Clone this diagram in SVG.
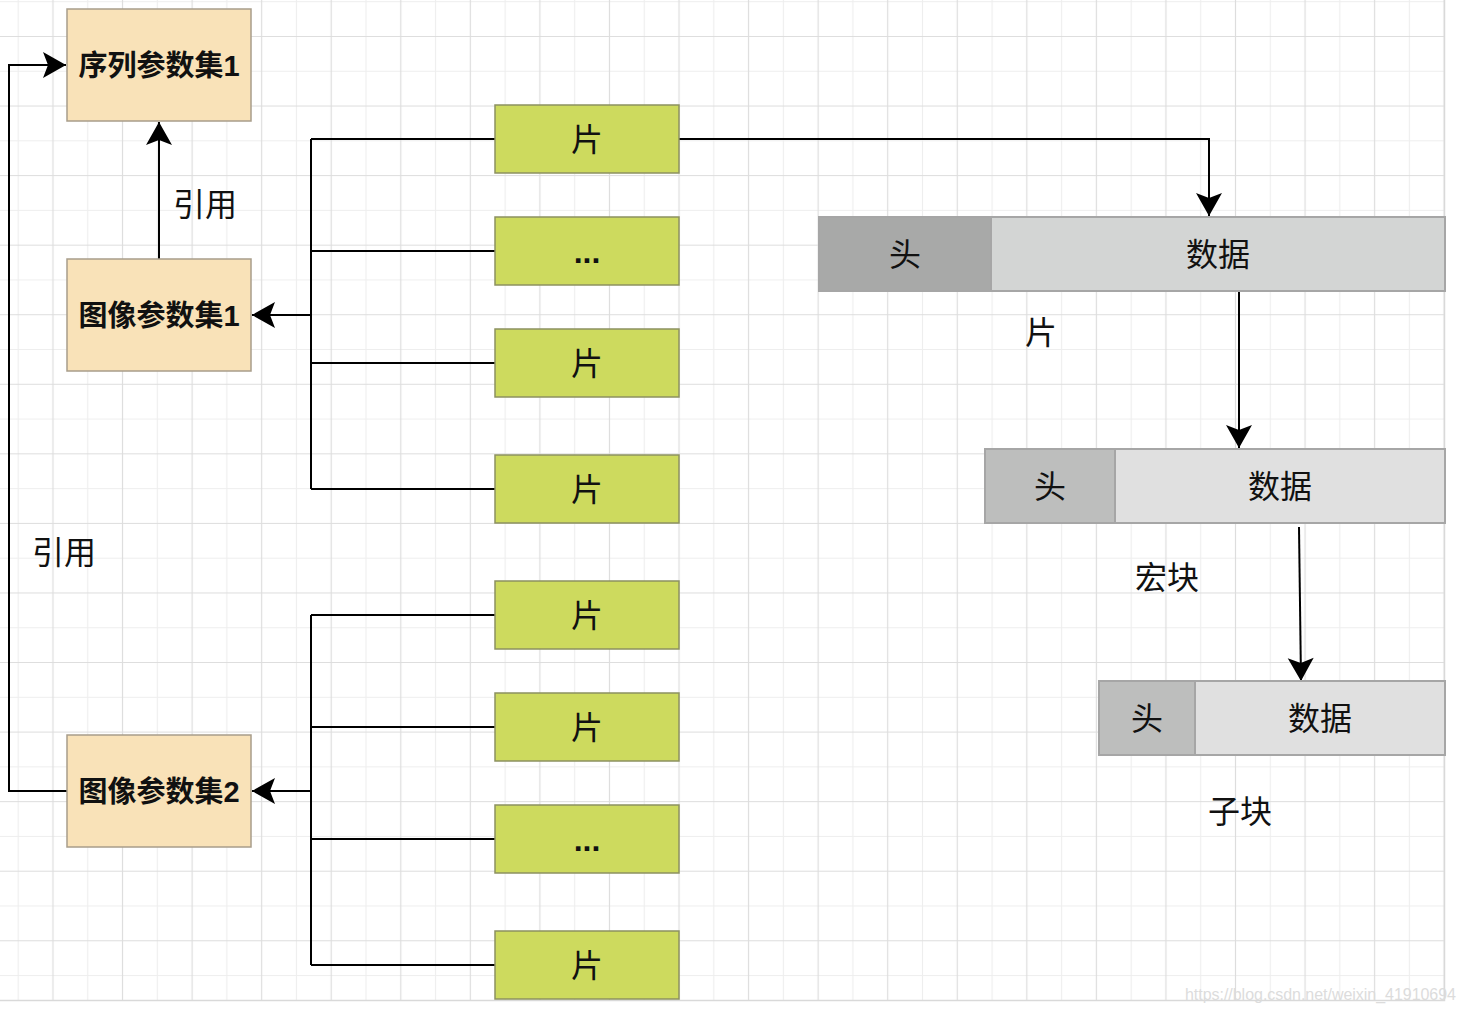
<svg xmlns="http://www.w3.org/2000/svg" width="1466" height="1012" viewBox="0 0 1466 1012">
<style>
.cjk{font-family:"Liberation Sans","Noto Sans CJK SC",sans-serif;fill:#111;text-anchor:middle}
.node{font-size:29px;font-weight:bold}
.lbl{font-size:32px}
.dots{font-weight:bold}
.slice{fill:#cdda5e;stroke:#8c9160;stroke-width:1.5}
.param{fill:#f9e2b8;stroke:#a89d8a;stroke-width:1.5}
.conn{fill:none;stroke:#000;stroke-width:2}
.arr{marker-end:url(#arr)}
.hd{stroke:#a6a6a6;stroke-width:2}
</style>
<defs>
<pattern id="grid" patternUnits="userSpaceOnUse" x="0.81" y="-15.69" width="69.56" height="69.56">
<path d="M17.39,0 V69.56 M0,17.39 H69.56" stroke="#eeeeee" stroke-width="1.2" fill="none"/>
<path d="M52.17,0 V69.56 M0,52.17 H69.56" stroke="#dddddd" stroke-width="1.2" fill="none"/>
</pattern>
<marker id="arr" markerUnits="userSpaceOnUse" markerWidth="26" markerHeight="28" refX="24" refY="14" orient="auto" viewBox="0 0 26 28">
<path d="M24,14 L1,1 L6,14 L1,27 Z" fill="#000"/>
</marker>
</defs>
<rect width="1466" height="1012" fill="#fff"/>
<rect x="0" y="0" width="1444" height="1000" fill="url(#grid)"/>
<path d="M1444.5,0 V1000.5 H0" stroke="#d9d9d9" stroke-width="1.5" fill="none"/>
<text x="1456" y="1000" font-family="Liberation Sans, sans-serif" font-size="16" fill="#dcdcdc" text-anchor="end" textLength="271">https://blog.csdn.net/weixin_41910694</text>

<g id="connectors">
<path class="conn" d="M311,139 V489 M311,139 H495 M311,251 H495 M311,363 H495 M311,489 H495"/>
<path class="conn arr" d="M311,315 H252"/>
<path class="conn" d="M311,615 V965 M311,615 H495 M311,727 H495 M311,839 H495 M311,965 H495"/>
<path class="conn arr" d="M311,791 H252"/>
<path class="conn arr" d="M159,259 V122"/>
<path class="conn arr" d="M67,791 H9 V65 H66"/>
<path class="conn arr" d="M679,139 H1209 V216"/>
<path class="conn arr" d="M1239,291 V448"/>
<path class="conn arr" d="M1299,527 L1301,681"/>
<text class="cjk lbl" x="205" y="216">引用</text>
<text class="cjk lbl" x="64" y="564">引用</text>
</g>

<g id="sps1"><rect class="param" x="67" y="9" width="184" height="112"/><text class="cjk node" x="159" y="76">序列参数集1</text></g>
<g id="pps1"><rect class="param" x="67" y="259" width="184" height="112"/><text class="cjk node" x="159" y="326">图像参数集1</text></g>
<g id="pps2"><rect class="param" x="67" y="735" width="184" height="112"/><text class="cjk node" x="159" y="802">图像参数集2</text></g>

<g id="slice1"><rect class="slice" x="495" y="105" width="184" height="68"/><text class="cjk lbl" x="587" y="151">片</text></g>
<g id="slice2"><rect class="slice" x="495" y="217" width="184" height="68"/><text class="cjk lbl dots" x="587" y="263">...</text></g>
<g id="slice3"><rect class="slice" x="495" y="329" width="184" height="68"/><text class="cjk lbl" x="587" y="375">片</text></g>
<g id="slice4"><rect class="slice" x="495" y="455" width="184" height="68"/><text class="cjk lbl" x="587" y="501">片</text></g>
<g id="slice5"><rect class="slice" x="495" y="581" width="184" height="68"/><text class="cjk lbl" x="587" y="627">片</text></g>
<g id="slice6"><rect class="slice" x="495" y="693" width="184" height="68"/><text class="cjk lbl" x="587" y="739">片</text></g>
<g id="slice7"><rect class="slice" x="495" y="805" width="184" height="68"/><text class="cjk lbl dots" x="587" y="851">...</text></g>
<g id="slice8"><rect class="slice" x="495" y="931" width="184" height="68"/><text class="cjk lbl" x="587" y="977">片</text></g>

<g id="slice-struct">
<rect class="hd" x="819" y="217" width="172" height="74" fill="#a8a9a8"/>
<rect class="hd" x="991" y="217" width="454" height="74" fill="#d3d5d4"/>
<text class="cjk lbl" x="905" y="266">头</text>
<text class="cjk lbl" x="1218" y="266">数据</text>
<text class="cjk lbl" x="1041" y="344">片</text>
</g>
<g id="mb-struct">
<rect class="hd" x="985" y="449" width="130" height="74" fill="#bdbebd"/>
<rect class="hd" x="1115" y="449" width="330" height="74" fill="#e0e0e0"/>
<text class="cjk lbl" x="1050" y="498">头</text>
<text class="cjk lbl" x="1280" y="498">数据</text>
<text class="cjk lbl" x="1167" y="589">宏块</text>
</g>
<g id="sb-struct">
<rect class="hd" x="1099" y="681" width="96" height="74" fill="#bdbebd"/>
<rect class="hd" x="1195" y="681" width="250" height="74" fill="#e0e0e0"/>
<text class="cjk lbl" x="1147" y="730">头</text>
<text class="cjk lbl" x="1320" y="730">数据</text>
<text class="cjk lbl" x="1240" y="823">子块</text>
</g>
</svg>
